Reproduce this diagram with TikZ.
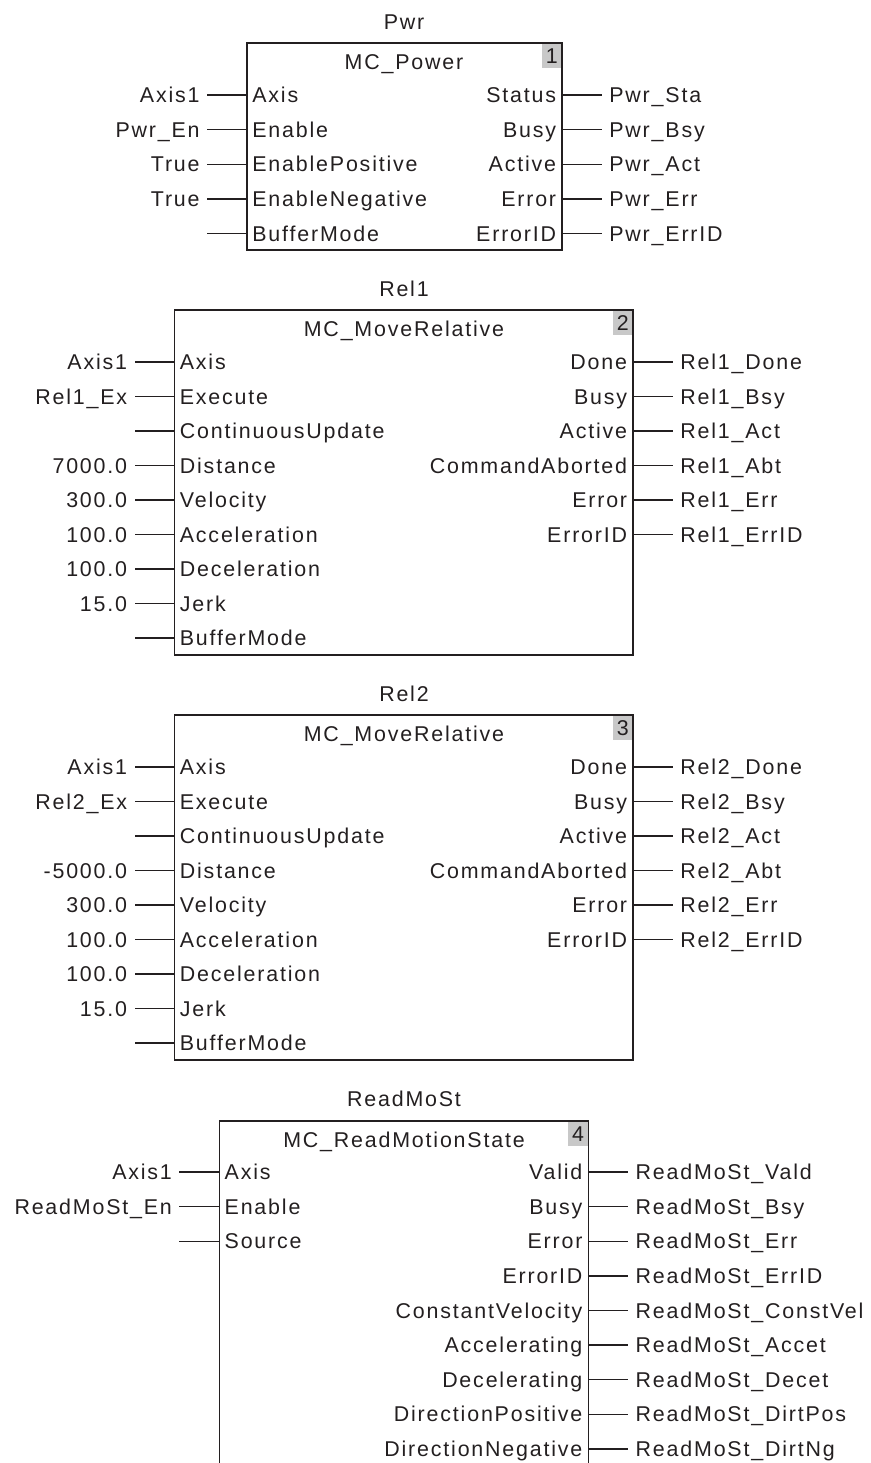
\documentclass[tikz,border=0pt]{standalone}
\usepackage{fontspec}
\setmainfont{Liberation Sans}[LetterSpace=8.5]
\usepackage{tikz}
\definecolor{ink}{HTML}{231F20}
\definecolor{numgray}{HTML}{C8C8C8}

\begin{document}
\begin{tikzpicture}[x=0.5pt,y=-0.5pt,
  every node/.style={inner sep=0pt, text=ink, text height=7.66pt, text depth=0pt,
    font=\fontsize{10.7}{12}\selectfont},
  frame/.style={draw=ink, line width=0.7pt},
  wire/.style={draw=ink, line width=0.7pt},
  numbox/.style={fill=numgray, minimum width=9.75pt, minimum height=12.5pt},
  pinleft/.style={anchor=west, xshift=2.5pt},
  pinright/.style={anchor=east, xshift=-2.75pt},
  varleft/.style={anchor=east, inner xsep=3.5pt},
  varright/.style={anchor=west, inner xsep=3.5pt}]
\useasboundingbox (0,0) rectangle (871,1463);

% Block 1: Pwr
\node (pwr-name) at (404,22) {Pwr};
\node[numbox, anchor=north east] (pwr-num) at (562,43) {1};
\draw[frame] (247,43) rectangle (562,250);
\node (pwr-type) at (404,62) {MC\_Power};
\foreach \pinname/\varname [count=\i from 0] in {Axis/Axis1, Enable/Pwr\_En,
    EnablePositive/True, EnableNegative/True, BufferMode/{}}{
  \coordinate (pwr-in\i) at (247,95+34.6*\i);
  \node[pinleft] (pwr-pin\i) at (pwr-in\i) {\pinname};
  \node[varleft] (pwr-var\i) at ([xshift=-20pt]pwr-in\i) {\varname};
  \draw[wire] (pwr-in\i) -- (pwr-var\i);
}
\foreach \pinname/\varname [count=\i from 0] in {Status/Pwr\_Sta, Busy/Pwr\_Bsy,
    Active/Pwr\_Act, Error/Pwr\_Err, ErrorID/Pwr\_ErrID}{
  \coordinate (pwr-out\i) at (562,95+34.6*\i);
  \node[pinright] (pwr-opin\i) at (pwr-out\i) {\pinname};
  \node[varright] (pwr-ovar\i) at ([xshift=20pt]pwr-out\i) {\varname};
  \draw[wire] (pwr-out\i) -- (pwr-ovar\i);
}

% Block 2: Rel1
\node (rel1-name) at (404,289) {Rel1};
\node[numbox, anchor=north east] (rel1-num) at (633,310) {2};
\draw[frame] (174.5,310) rectangle (633,655);
\node (rel1-type) at (404,329) {MC\_MoveRelative};
\foreach \pinname/\varname [count=\i from 0] in {Axis/Axis1, Execute/Rel1\_Ex,
    ContinuousUpdate/{}, Distance/7000.0, Velocity/300.0, Acceleration/100.0,
    Deceleration/100.0, Jerk/15.0, BufferMode/{}}{
  \coordinate (rel1-in\i) at (174.5,362+34.5*\i);
  \node[pinleft] (rel1-pin\i) at (rel1-in\i) {\pinname};
  \node[varleft] (rel1-var\i) at ([xshift=-20pt]rel1-in\i) {\varname};
  \draw[wire] (rel1-in\i) -- (rel1-var\i);
}
\foreach \pinname/\varname [count=\i from 0] in {Done/Rel1\_Done, Busy/Rel1\_Bsy,
    Active/Rel1\_Act, CommandAborted/Rel1\_Abt, Error/Rel1\_Err, ErrorID/Rel1\_ErrID}{
  \coordinate (rel1-out\i) at (633,362+34.5*\i);
  \node[pinright] (rel1-opin\i) at (rel1-out\i) {\pinname};
  \node[varright] (rel1-ovar\i) at ([xshift=20pt]rel1-out\i) {\varname};
  \draw[wire] (rel1-out\i) -- (rel1-ovar\i);
}

% Block 3: Rel2
\node (rel2-name) at (404,694) {Rel2};
\node[numbox, anchor=north east] (rel2-num) at (633,715) {3};
\draw[frame] (174.5,715) rectangle (633,1060);
\node (rel2-type) at (404,734) {MC\_MoveRelative};
\foreach \pinname/\varname [count=\i from 0] in {Axis/Axis1, Execute/Rel2\_Ex,
    ContinuousUpdate/{}, Distance/-5000.0, Velocity/300.0, Acceleration/100.0,
    Deceleration/100.0, Jerk/15.0, BufferMode/{}}{
  \coordinate (rel2-in\i) at (174.5,767+34.5*\i);
  \node[pinleft] (rel2-pin\i) at (rel2-in\i) {\pinname};
  \node[varleft] (rel2-var\i) at ([xshift=-20pt]rel2-in\i) {\varname};
  \draw[wire] (rel2-in\i) -- (rel2-var\i);
}
\foreach \pinname/\varname [count=\i from 0] in {Done/Rel2\_Done, Busy/Rel2\_Bsy,
    Active/Rel2\_Act, CommandAborted/Rel2\_Abt, Error/Rel2\_Err, ErrorID/Rel2\_ErrID}{
  \coordinate (rel2-out\i) at (633,767+34.5*\i);
  \node[pinright] (rel2-opin\i) at (rel2-out\i) {\pinname};
  \node[varright] (rel2-ovar\i) at ([xshift=20pt]rel2-out\i) {\varname};
  \draw[wire] (rel2-out\i) -- (rel2-ovar\i);
}

% Block 4: ReadMoSt (runs off the bottom)
\node (rms-name) at (404,1099) {ReadMoSt};
\node[numbox, anchor=north east] (rms-num) at (588.3,1121) {4};
\draw[frame] (219.3,1463) -- (219.3,1121) -- (588.3,1121) -- (588.3,1463);
\node (rms-type) at (404,1140) {MC\_ReadMotionState};
\foreach \pinname/\varname [count=\i from 0] in {Axis/Axis1, Enable/ReadMoSt\_En,
    Source/{}}{
  \coordinate (rms-in\i) at (219.3,1172+34.6*\i);
  \node[pinleft] (rms-pin\i) at (rms-in\i) {\pinname};
  \node[varleft] (rms-var\i) at ([xshift=-20pt]rms-in\i) {\varname};
  \draw[wire] (rms-in\i) -- (rms-var\i);
}
\foreach \pinname/\varname [count=\i from 0] in {Valid/ReadMoSt\_Vald,
    Busy/ReadMoSt\_Bsy, Error/ReadMoSt\_Err, ErrorID/ReadMoSt\_ErrID,
    ConstantVelocity/ReadMoSt\_ConstVel, Accelerating/ReadMoSt\_Accet,
    Decelerating/ReadMoSt\_Decet, DirectionPositive/ReadMoSt\_DirtPos,
    DirectionNegative/ReadMoSt\_DirtNg}{
  \coordinate (rms-out\i) at (588.3,1172+34.6*\i);
  \node[pinright] (rms-opin\i) at (rms-out\i) {\pinname};
  \node[varright] (rms-ovar\i) at ([xshift=20pt]rms-out\i) {\varname};
  \draw[wire] (rms-out\i) -- (rms-ovar\i);
}
\end{tikzpicture}
\end{document}
